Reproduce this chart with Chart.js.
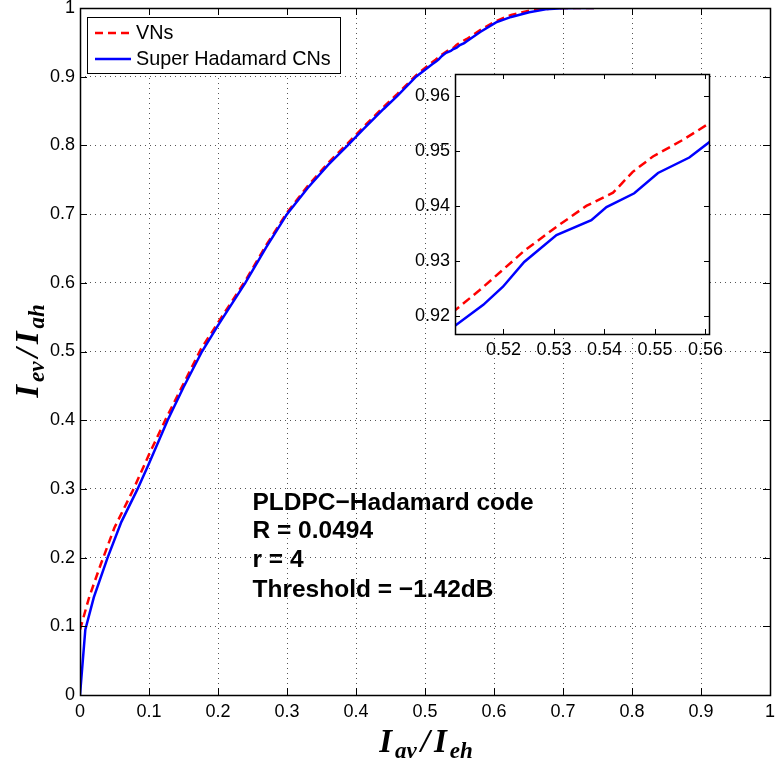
<!DOCTYPE html>
<html>
<head>
<meta charset="utf-8">
<script src="https://cdn.jsdelivr.net/npm/chart.js@4/dist/chart.umd.min.js"></script>
<style>
  html, body { margin: 0; padding: 0; background: #ffffff; }
  #wrap { position: relative; width: 775px; height: 767px; }
  #main { position: absolute; left: 0; top: 0; }
  #inset { position: absolute; left: 400px; top: 60px; }
</style>
</head>
<body>
<div id="wrap">
  <canvas id="main" width="775" height="767"></canvas>
  <canvas id="inset" width="345" height="320"></canvas>
</div>
<script>
// ---------- data ----------
const seriesLabels = ['VNs', 'Super Hadamard CNs'];

const vnX = [0, 0.0135, 0.03, 0.0497, 0.0777, 0.10, 0.125, 0.15, 0.175, 0.20, 0.2396, 0.27, 0.30, 0.33, 0.36, 0.388, 0.41, 0.44, 0.46, 0.487, 0.5104, 0.5153, 0.5199, 0.5242, 0.5305, 0.5364, 0.5417, 0.5456, 0.5496, 0.5555, 0.5607, 0.58, 0.603, 0.625, 0.651, 0.68, 0.71, 0.745];
const vnY = [0.095, 0.143, 0.19, 0.243, 0.30, 0.35, 0.403, 0.453, 0.503, 0.542, 0.603, 0.655, 0.702, 0.741, 0.775, 0.803, 0.826, 0.856, 0.875, 0.902, 0.921, 0.9247, 0.9284, 0.9319, 0.9362, 0.9400, 0.9424, 0.9462, 0.9490, 0.9520, 0.9550, 0.968, 0.981, 0.990, 0.996, 0.999, 1.0, 1.0];

const cnX = [0, 0.0077, 0.02, 0.04, 0.06, 0.0835, 0.10, 0.127, 0.15, 0.1768, 0.20, 0.2396, 0.27, 0.30, 0.33, 0.36, 0.388, 0.41, 0.44, 0.46, 0.487, 0.5104, 0.5160, 0.5199, 0.5241, 0.5305, 0.5374, 0.5404, 0.5459, 0.5506, 0.5568, 0.5606, 0.58, 0.603, 0.625, 0.651, 0.675, 0.699, 0.72, 0.745];
const cnY = [0, 0.095, 0.142, 0.20, 0.252, 0.30, 0.337, 0.40, 0.448, 0.50, 0.538, 0.60, 0.652, 0.70, 0.738, 0.772, 0.80, 0.823, 0.853, 0.872, 0.90, 0.9182, 0.9220, 0.9253, 0.9298, 0.9347, 0.9374, 0.9398, 0.9423, 0.9460, 0.9488, 0.9515, 0.965, 0.979, 0.987, 0.9937, 0.998, 0.9995, 1.0, 1.0];

const mainTicks = [0, 0.1, 0.2, 0.3, 0.4, 0.5, 0.6, 0.7, 0.8, 0.9, 1];
const mainTickLabels = ['0', '0.1', '0.2', '0.3', '0.4', '0.5', '0.6', '0.7', '0.8', '0.9', '1'];

const insetXTicks = [0.52, 0.53, 0.54, 0.55, 0.56];
const insetXTickLabels = ['0.52', '0.53', '0.54', '0.55', '0.56'];
const insetYTicks = [0.92, 0.93, 0.94, 0.95, 0.96];
const insetYTickLabels = ['0.92', '0.93', '0.94', '0.95', '0.96'];

const annotationLines = ['PLDPC\u2212Hadamard code', 'R = 0.0494', 'r = 4', 'Threshold = \u22121.42dB'];
const annotationY = [0.269, 0.228, 0.186, 0.142];
const annotationX = 0.25;

// ---------- helpers ----------
const pts = (xs, ys) => xs.map((x, i) => ({ x: x, y: ys[i] }));
const RED = '#ff0000', BLUE = '#0000ff';
const TICK_FONT = { family: '"Liberation Sans", Arial, sans-serif', size: 18 };

function makeDatasets(dash, width) {
  return [
    { label: seriesLabels[0], data: pts(vnX, vnY), showLine: true, borderColor: RED, backgroundColor: RED,
      borderWidth: width, borderDash: dash, pointRadius: 0, fill: false, tension: 0, order: 2 },
    { label: seriesLabels[1], data: pts(cnX, cnY), showLine: true, borderColor: BLUE, backgroundColor: BLUE,
      borderWidth: width, pointRadius: 0, fill: false, tension: 0, order: 1 }
  ];
}

function noPad(s) { s.paddingTop = 0; s.paddingBottom = 0; s.paddingLeft = 0; s.paddingRight = 0; }

function frameTicks(chart, len) {
  const ctx = chart.ctx, a = chart.chartArea, sx = chart.scales.x, sy = chart.scales.y;
  ctx.save();
  ctx.strokeStyle = '#000';
  ctx.lineWidth = 1;
  ctx.beginPath();
  sx.ticks.forEach(t => {
    const px = Math.round(sx.getPixelForValue(t.value)) + 0.5;
    ctx.moveTo(px, a.bottom); ctx.lineTo(px, a.bottom - len);
    ctx.moveTo(px, a.top); ctx.lineTo(px, a.top + len);
  });
  sy.ticks.forEach(t => {
    const py = Math.round(sy.getPixelForValue(t.value)) + 0.5;
    ctx.moveTo(a.left, py); ctx.lineTo(a.left + len, py);
    ctx.moveTo(a.right, py); ctx.lineTo(a.right - len, py);
  });
  ctx.stroke();
  ctx.lineWidth = 1.5;
  ctx.strokeRect(Math.round(a.left) + 0.5, Math.round(a.top) + 0.5, Math.round(a.right - a.left), Math.round(a.bottom - a.top));
  ctx.restore();
}

function drawMath(ctx, parts, cx, baseY) {
  const big = 'bold italic 33px "Liberation Serif", "DejaVu Serif", serif';
  const small = 'bold italic 23px "Liberation Serif", "DejaVu Serif", serif';
  let total = 0;
  parts.forEach(p => { ctx.font = p.sub ? small : big; p.w = ctx.measureText(p.t).width + (p.gap || 0); total += p.w; });
  let x = cx - total / 2;
  ctx.textAlign = 'left';
  ctx.textBaseline = 'alphabetic';
  parts.forEach(p => {
    ctx.font = p.sub ? small : big;
    ctx.fillText(p.t, x, baseY + (p.sub ? 6 : 0));
    x += p.w;
  });
}

// ---------- main chart ----------
const mainPlugin = {
  id: 'mainDecor',
  afterDatasetsDraw(chart) {
    const ctx = chart.ctx, sx = chart.scales.x, sy = chart.scales.y;
    frameTicks(chart, 7);

    // legend
    ctx.save();
    ctx.fillStyle = '#fff';
    ctx.fillRect(87, 17, 253, 56);
    ctx.strokeStyle = '#000';
    ctx.lineWidth = 1;
    ctx.strokeRect(87.5, 17.5, 253, 56);
    const rows = [33, 59];
    chart.data.datasets.forEach((ds, i) => {
      ctx.strokeStyle = ds.borderColor;
      ctx.lineWidth = 2.5;
      ctx.setLineDash(ds.borderDash || []);
      ctx.beginPath();
      ctx.moveTo(95, rows[i]); ctx.lineTo(131, rows[i]);
      ctx.stroke();
      ctx.setLineDash([]);
      ctx.fillStyle = '#000';
      ctx.font = '19.8px "Liberation Sans", Arial, sans-serif';
      ctx.textAlign = 'left';
      ctx.textBaseline = 'middle';
      ctx.fillText(ds.label, 136, rows[i] + 1);
    });

    // annotation
    ctx.font = 'bold 24.5px "Liberation Sans", Arial, sans-serif';
    ctx.fillStyle = '#000';
    ctx.textAlign = 'left';
    ctx.textBaseline = 'alphabetic';
    annotationLines.forEach((s, i) => {
      ctx.fillText(s, sx.getPixelForValue(annotationX), sy.getPixelForValue(annotationY[i]));
    });

    // axis titles
    drawMath(ctx, [{ t: 'I', gap: 3 }, { t: 'av', sub: true, gap: 4 }, { t: '/', gap: 4 }, { t: 'I', gap: 3 }, { t: 'eh', sub: true }], 426, 752);
    ctx.translate(38, 351);
    ctx.rotate(-Math.PI / 2);
    drawMath(ctx, [{ t: 'I', gap: 3 }, { t: 'ev', sub: true, gap: 4 }, { t: '/', gap: 4 }, { t: 'I', gap: 3 }, { t: 'ah', sub: true }], 0, 0);
    ctx.restore();
  }
};

new Chart(document.getElementById('main'), {
  type: 'scatter',
  data: { datasets: makeDatasets([8, 5], 2.5) },
  options: {
    responsive: false, animation: false, devicePixelRatio: 1,
    layout: { autoPadding: false, padding: { top: 8, right: 5, left: 0, bottom: 0 } },
    plugins: { legend: { display: false }, tooltip: { enabled: false } },
    scales: {
      x: {
        type: 'linear', min: 0, max: 1,
        afterBuildTicks: s => { s.ticks = mainTicks.map(v => ({ value: v })); },
        afterFit: s => { s.height = 72; noPad(s); },
        ticks: { font: TICK_FONT, color: '#000', padding: 6, maxRotation: 0, autoSkip: false,
          callback: (v, i) => mainTickLabels[i] },
        grid: { color: '#555', lineWidth: 1, drawTicks: false },
        border: { display: false, dash: [1, 4] }
      },
      y: {
        type: 'linear', min: 0, max: 1,
        afterBuildTicks: s => { s.ticks = mainTicks.map(v => ({ value: v })); },
        afterFit: s => { s.width = 80; noPad(s); },
        ticks: { font: TICK_FONT, color: '#000', padding: 5, autoSkip: false,
          callback: (v, i) => mainTickLabels[i] },
        grid: { color: '#555', lineWidth: 1, drawTicks: false },
        border: { display: false, dash: [1, 4] }
      }
    }
  },
  plugins: [mainPlugin]
});

// ---------- inset chart ----------
const insetPlugin = {
  id: 'insetDecor',
  beforeDatasetsDraw(chart) {
    const a = chart.chartArea, ctx = chart.ctx;
    ctx.save();
    ctx.fillStyle = '#fff';
    ctx.fillRect(a.left, a.top, a.right - a.left, a.bottom - a.top);
    ctx.restore();
  },
  afterDatasetsDraw(chart) { frameTicks(chart, 5); }
};

new Chart(document.getElementById('inset'), {
  type: 'scatter',
  data: { datasets: makeDatasets([9, 5], 2.5) },
  options: {
    responsive: false, animation: false, devicePixelRatio: 1,
    layout: { autoPadding: false, padding: { top: 14, right: 36, left: 0, bottom: 0 } },
    plugins: { legend: { display: false }, tooltip: { enabled: false } },
    scales: {
      x: {
        type: 'linear', min: 0.5104, max: 0.5607,
        afterBuildTicks: s => { s.ticks = insetXTicks.map(v => ({ value: v })); },
        afterFit: s => { s.height = 46; noPad(s); },
        ticks: { font: TICK_FONT, color: '#000', padding: 5, maxRotation: 0, autoSkip: false,
          callback: (v, i) => insetXTickLabels[i] },
        grid: { display: false, drawTicks: false },
        border: { display: false }
      },
      y: {
        type: 'linear', min: 0.9167, max: 0.964,
        afterBuildTicks: s => { s.ticks = insetYTicks.map(v => ({ value: v })); },
        afterFit: s => { s.width = 55; noPad(s); },
        ticks: { font: TICK_FONT, color: '#000', padding: 5, autoSkip: false,
          callback: (v, i) => insetYTickLabels[i] },
        grid: { display: false, drawTicks: false },
        border: { display: false }
      }
    }
  },
  plugins: [insetPlugin]
});
</script>
</body>
</html>
